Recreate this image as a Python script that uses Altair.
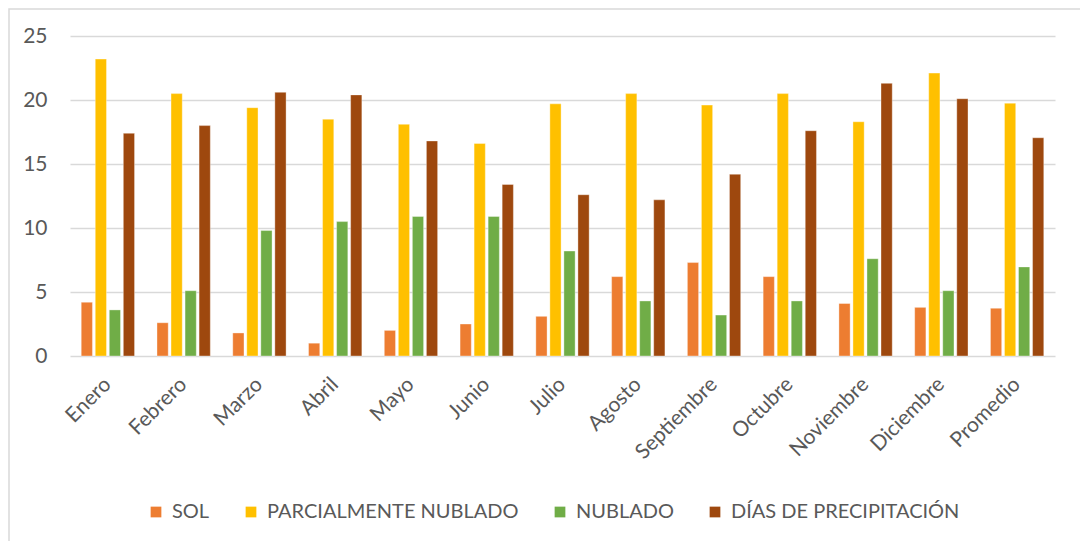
import altair as alt
import pandas as pd

meses = ["Enero", "Febrero", "Marzo", "Abril", "Mayo", "Junio", "Julio",
         "Agosto", "Septiembre", "Octubre", "Noviembre", "Diciembre", "Promedio"]
series = ["SOL", "PARCIALMENTE NUBLADO", "NUBLADO", "DÍAS DE PRECIPITACIÓN"]
colores = ["#ED7D31", "#FFC000", "#70AD47", "#9E480E"]

sol = [4.2, 2.6, 1.8, 1.0, 2.0, 2.5, 3.1, 6.2, 7.3, 6.2, 4.1, 3.8, 3.73]
parcial = [23.2, 20.5, 19.4, 18.5, 18.1, 16.6, 19.7, 20.5, 19.6, 20.5, 18.3, 22.1, 19.75]
nublado = [3.6, 5.1, 9.8, 10.5, 10.9, 10.9, 8.2, 4.3, 3.2, 4.3, 7.6, 5.1, 6.96]
precip = [17.4, 18.0, 20.6, 20.4, 16.8, 13.4, 12.6, 12.2, 14.2, 17.6, 21.3, 20.1, 17.05]

rows = []
for s, vals in zip(series, [sol, parcial, nublado, precip]):
    for m, v in zip(meses, vals):
        rows.append({"mes": m, "serie": s, "valor": v})
df = pd.DataFrame(rows)

FONT = "Lato"

bars = alt.Chart(df).mark_bar(stroke="white", strokeWidth=0.6, strokeOpacity=0.6).encode(
    x=alt.X("mes:N", sort=meses, title=None,
            scale=alt.Scale(paddingInner=0, paddingOuter=0),
            axis=alt.Axis(labelAngle=-45, labelFontSize=21, labelColor="#595959",
                          labelFont=FONT, domain=False, ticks=False, grid=False,
                          labelPadding=25, labelAlign="right", labelBaseline="middle")),
    xOffset=alt.XOffset("serie:N", sort=series,
                        scale=alt.Scale(paddingInner=0.2, paddingOuter=0.8)),
    y=alt.Y("valor:Q", title=None,
            scale=alt.Scale(domain=[0, 25], nice=False),
            axis=alt.Axis(values=[0, 5, 10, 15, 20, 25], labelFontSize=21,
                          labelColor="#595959", labelFont=FONT, domain=False,
                          ticks=False, gridColor="#d9d9d9", gridWidth=1.5,
                          labelPadding=23)),
    color=alt.Color("serie:N", sort=series,
                    scale=alt.Scale(domain=series, range=colores),
                    legend=alt.Legend(title=None, orient="none", direction="horizontal",
                                      legendX=76, legendY=466, symbolType="square",
                                      symbolSize=115, symbolStrokeWidth=0,
                                      labelFontSize=20, labelColor="#595959",
                                      labelFont=FONT, labelOffset=6,
                                      columnPadding=31, labelLimit=400)),
)

marco = alt.Chart(pd.DataFrame({"a": [0]})).mark_rect(
    fill=None, stroke="#d9d9d9", strokeWidth=1.5, clip=False
).encode(
    x=alt.value(-61), x2=alt.value(1100), y=alt.value(-27), y2=alt.value(700)
)

chart = alt.layer(marco, bars).properties(
    width=985, height=320,
    autosize=alt.AutoSizeParams(type="none"),
    padding={"left": 62, "top": 28, "right": 25, "bottom": 185},
).configure_view(stroke=None)

chart.save("out.html", embed_options={"renderer": "svg", "actions": False})
